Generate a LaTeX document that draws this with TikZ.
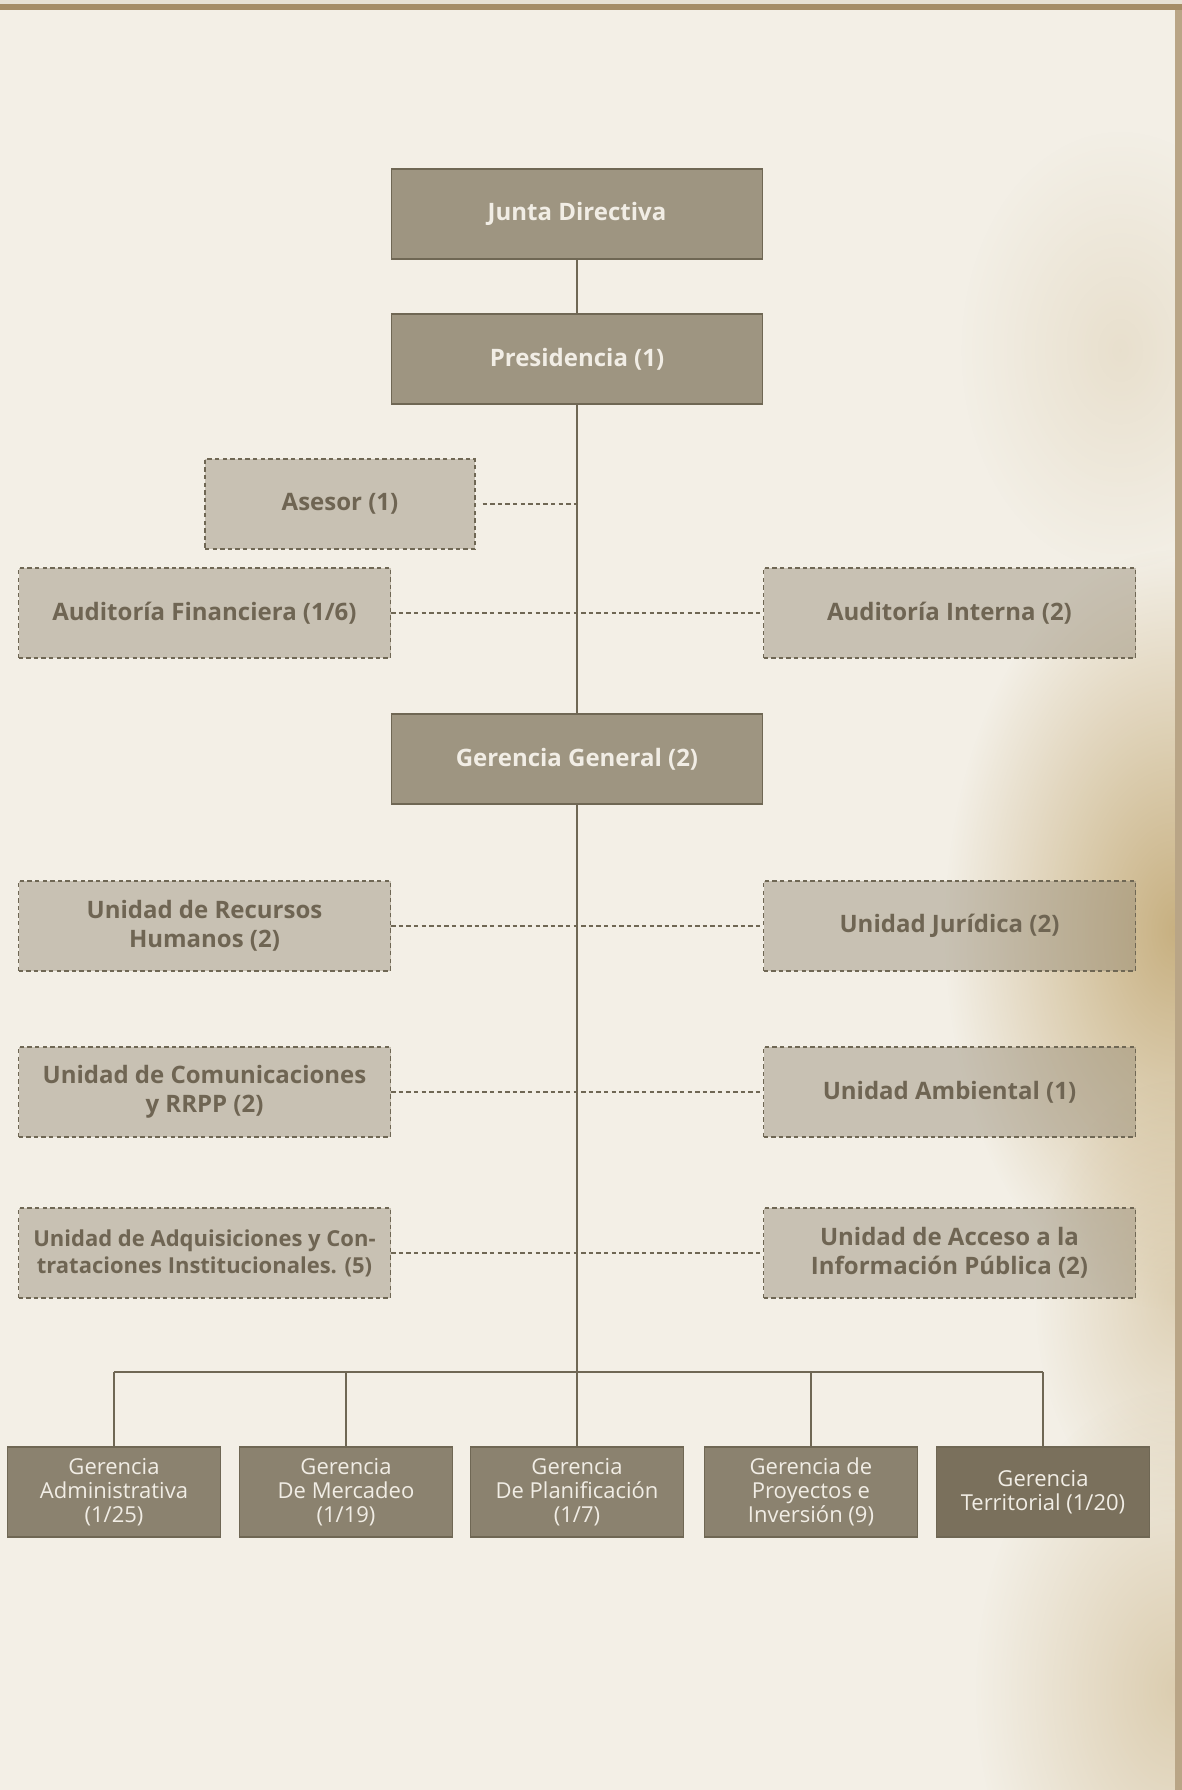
\documentclass[tikz,border=0pt]{standalone}
\usepackage{fontspec}
\setmainfont{Open Sans}
\usetikzlibrary{positioning, fadings}
\definecolor{orgbrown}{RGB}{158,149,129}
\definecolor{orgline}{RGB}{111,103,84}
\definecolor{orgtext}{RGB}{111,101,83}
\definecolor{orglight}{RGB}{241,237,229}
\definecolor{orgdark}{RGB}{139,130,111}
\definecolor{orgdarker}{RGB}{122,112,92}
\definecolor{orgveil}{RGB}{150,140,120}
\definecolor{paper}{RGB}{243,239,230}
\definecolor{stain}{RGB}{185,155,95}
\definecolor{rim}{RGB}{165,140,102}
\tikzfading[name=blob, inner color=transparent!0, outer color=transparent!100]

\begin{document}
\begin{tikzpicture}[x=0.5pt, y=-0.5pt,
  mainbox/.style={draw=orgline, line width=0.6pt, fill=orgbrown, text=orglight, minimum width=185.5pt, minimum height=45pt, align=center, inner sep=2pt, font=\bfseries\fontsize{12}{14.5}\selectfont},
  dashbox/.style={draw=orgline, line width=0.6pt, dash pattern=on 2.2pt off 1.6pt, fill=orgveil, fill opacity=0.46, text opacity=1, draw opacity=1, text=orgtext, minimum width=186pt, minimum height=45pt, align=center, inner sep=2pt, font=\bfseries\fontsize{12}{14.5}\selectfont},
  lowbox/.style={draw=orgline, line width=0.6pt, fill=orgdark, text=orglight, minimum width=106.75pt, minimum height=45pt, align=center, inner sep=2pt, font=\fontsize{11}{12}\selectfont},
  link/.style={draw=orgline, line width=0.75pt},
  dashlink/.style={draw=orgline, line width=0.65pt, dash pattern=on 2.2pt off 1.6pt}
]
  \useasboundingbox (0,0) rectangle (1182,1790);
  \fill[paper] (0,0) rectangle (1182,1790);
  \fill[stain, opacity=0.18, path fading=blob] (1120,350) ellipse [x radius=80pt, y radius=110pt];
  \fill[stain, opacity=0.75, path fading=blob] (1175,930) ellipse [x radius=115pt, y radius=190pt];
  \fill[stain, opacity=0.35, path fading=blob] (1175,1300) ellipse [x radius=70pt, y radius=110pt];
  \fill[stain, opacity=0.4, path fading=blob] (1175,1690) ellipse [x radius=100pt, y radius=150pt];
  \fill[paper!85!rim] (0,0) rectangle (1182,4);
  \fill[rim] (0,4) rectangle (1182,10);
  \fill[rim!75!paper] (1175,10) rectangle (1182,1790);

  \node[mainbox] (junta) at (577,214) {Junta Directiva};
  \node[mainbox] (presid) at (577,359) {Presidencia (1)};
  \node[dashbox, minimum width=135pt] (asesor) at (340,504) {Asesor (1)};
  \node[dashbox] (audfin) at (204.5,613) {Auditoría Financiera (1/6)};
  \node[dashbox] (audint) at (949.5,613) {Auditoría Interna (2)};
  \node[mainbox] (gergen) at (577,759) {Gerencia General (2)};
  \node[dashbox] (rrhh) at (204.5,926) {Unidad de Recursos\\Humanos (2)};
  \node[dashbox] (juridica) at (949.5,926) {Unidad Jurídica (2)};
  \node[dashbox] (comunic) at (204.5,1092) {Unidad de Comunicaciones\\y RRPP (2)};
  \node[dashbox] (ambiental) at (949.5,1092) {Unidad Ambiental (1)};
  \node[dashbox, font=\bfseries\fontsize{11}{13.5}\selectfont] (adquis) at (204.5,1253) {Unidad de Adquisiciones y Con-\\trataciones Institucionales. (5)};
  \node[dashbox] (acceso) at (949.5,1253) {Unidad de Acceso a la\\Información Pública (2)};

  \node[lowbox] (geradm) at (114,1492) {Gerencia\\Administrativa\\(1/25)};
  \node[lowbox] (germerc) at (346,1492) {Gerencia\\De Mercadeo\\(1/19)};
  \node[lowbox] (gerplan) at (577,1492) {Gerencia\\De Planificación\\(1/7)};
  \node[lowbox] (gerproy) at (811,1492) {Gerencia de\\Proyectos e\\Inversión (9)};
  \node[lowbox, fill=orgdarker] (gerterr) at (1043,1492) {Gerencia\\Territorial (1/20)};

  \draw[dashlink, shorten <=3.5pt] (asesor) -- (asesor -| gergen);
  \draw[dashlink] (audfin) -- (audint);
  \draw[dashlink] (rrhh) -- (juridica);
  \draw[dashlink] (comunic) -- (ambiental);
  \draw[dashlink] (adquis) -- (acceso);

  \coordinate (bus) at (577,1372);
  \draw[link] (junta) -- (presid);
  \draw[link] (presid) -- (gergen);
  \draw[link] (gergen) -- (bus);
  \draw[link] (geradm.north |- bus) -- (gerterr.north |- bus);
  \foreach \n in {geradm, germerc, gerplan, gerproy, gerterr}
    \draw[link] (\n.north |- bus) -- (\n);
\end{tikzpicture}
\end{document}
